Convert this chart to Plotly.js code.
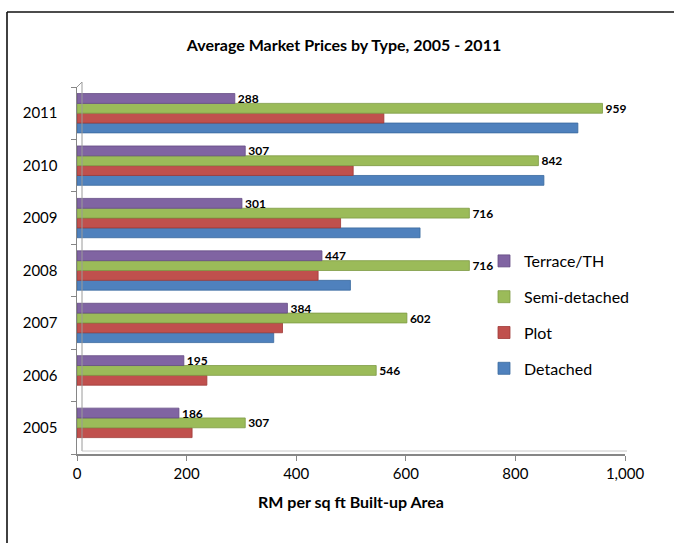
<!DOCTYPE html>
<html>
<head>
<meta charset="utf-8">
<script src="https://cdn.plot.ly/plotly-3.0.1.min.js"></script>
<style>
  html, body { margin: 0; padding: 0; background: #fff; }
  #chart { width: 674px; height: 543px; }
</style>
</head>
<body>
<div id="chart"></div>
<script>
// Data
const years = ['2005', '2006', '2007', '2008', '2009', '2010', '2011'];
const detached = [null, null, 359, 499, 626, 852, 914];
const plot = [210, 237, 375, 440, 481, 504, 560];
const semiDetached = [307, 546, 602, 716, 716, 842, 959];
const terrace = [186, 195, 384, 447, 301, 307, 288];
const seriesNames = ['Detached', 'Plot', 'Semi-detached', 'Terrace/TH'];
const seriesColors = ['#4F81BD', '#C0504D', '#9BBB59', '#8064A2'];
const lineColors = ['#3A6A9E', '#9E3A37', '#7E9B44', '#644C84'];
const labelled = [false, false, true, true];
const xTickVals = [0, 200, 400, 600, 800, 1000];

const FONT = 'Lato, "Open Sans", "DejaVu Sans", sans-serif';
const seriesValues = [detached, plot, semiDetached, terrace];

const traces = seriesValues.map((vals, i) => {
  const t = {
    type: 'bar',
    orientation: 'h',
    name: seriesNames[i],
    legendgroup: 'g' + i,
    legendrank: 1000 - i,
    y: years,
    x: vals,
    marker: { color: seriesColors[i], line: { color: lineColors[i], width: 0.8 } },
    hoverinfo: 'x+name',
    cliponaxis: false,
    constraintext: 'none'
  };
  if (labelled[i]) {
    t.texttemplate = '%{x}';
    t.textposition = 'outside';
    t.textfont = { family: FONT, size: 12, color: '#000', weight: 'bold' };
  } else {
    t.textposition = 'none';
  }
  return t;
});

// plot area geometry helpers (paper coords)
const L = 77, R = 49, T = 87, B = 89, W = 674, H = 543;
const pw = W - L - R, ph = H - T - B;
const px = v => (v - L) / pw;
const py = v => (H - B - v) / ph;

const layout = {
  width: W, height: H,
  margin: { l: L, r: R, t: T, b: B, pad: 0 },
  paper_bgcolor: '#ffffff',
  plot_bgcolor: 'rgba(0,0,0,0)',
  font: { family: FONT, color: '#000' },
  title: {
    text: 'Average Market Prices by Type, 2005 - 2011',
    font: { family: FONT, size: 16, color: '#000', weight: 'bold' },
    x: 344 / W, xanchor: 'center', xref: 'container',
    y: 1 - 45 / H, yanchor: 'middle', yref: 'container'
  },
  barmode: 'group',
  bargap: 0.25,
  bargroupgap: 0,
  showlegend: true,
  legend: {
    x: px(484), xanchor: 'left',
    y: py(244), yanchor: 'top',
    traceorder: 'grouped',
    tracegroupgap: 12,
    bgcolor: 'rgba(0,0,0,0)',
    font: { family: FONT, size: 16, color: '#000' }
  },
  xaxis: {
    range: [0, 1000],
    tickvals: xTickVals,
    tickformat: ',d',
    ticks: 'outside', ticklen: 5, tickcolor: '#868686',
    showline: true, linecolor: '#868686', linewidth: 1.5,
    showgrid: false, zeroline: false,
    tickfont: { family: FONT, size: 15, color: '#000' },
    title: {
      text: 'RM per sq ft Built-up Area',
      font: { family: FONT, size: 16, color: '#000', weight: 'bold' },
      standoff: 16
    }
  },
  yaxis: {
    type: 'category',
    categoryorder: 'array', categoryarray: years,
    ticks: 'outside', ticklen: 5, tickcolor: '#868686',
    tickson: 'boundaries',
    showline: true, linecolor: '#868686', linewidth: 1.5,
    showgrid: false, zeroline: false,
    ticklabelstandoff: 15,
    tickfont: { family: FONT, size: 15, color: '#000' }
  },
  shapes: [
    // chart border (top and left edges visible in the crop)
    { type: 'line', xref: 'paper', yref: 'paper', x0: px(7), x1: px(680), y0: py(12), y1: py(12),
      line: { color: '#111', width: 1.6 } },
    { type: 'line', xref: 'paper', yref: 'paper', x0: px(7), x1: px(7), y0: py(12), y1: py(550),
      line: { color: '#111', width: 1.6 } },
    // 3-D back wall edge
    { type: 'line', xref: 'paper', yref: 'paper', x0: px(82), x1: px(82), y0: py(82), y1: py(451),
      line: { color: '#9a9a9a', width: 1 } },
    { type: 'line', xref: 'paper', yref: 'paper', x0: px(77), x1: px(82), y0: py(87), y1: py(82),
      line: { color: '#9a9a9a', width: 1 } },
    { type: 'line', xref: 'paper', yref: 'paper', x0: px(82), x1: px(627), y0: py(451), y1: py(451),
      line: { color: '#c8c8c8', width: 1 } }
  ]
};

Plotly.newPlot('chart', traces, layout, { displayModeBar: false, staticPlot: true });
</script>
</body>
</html>
